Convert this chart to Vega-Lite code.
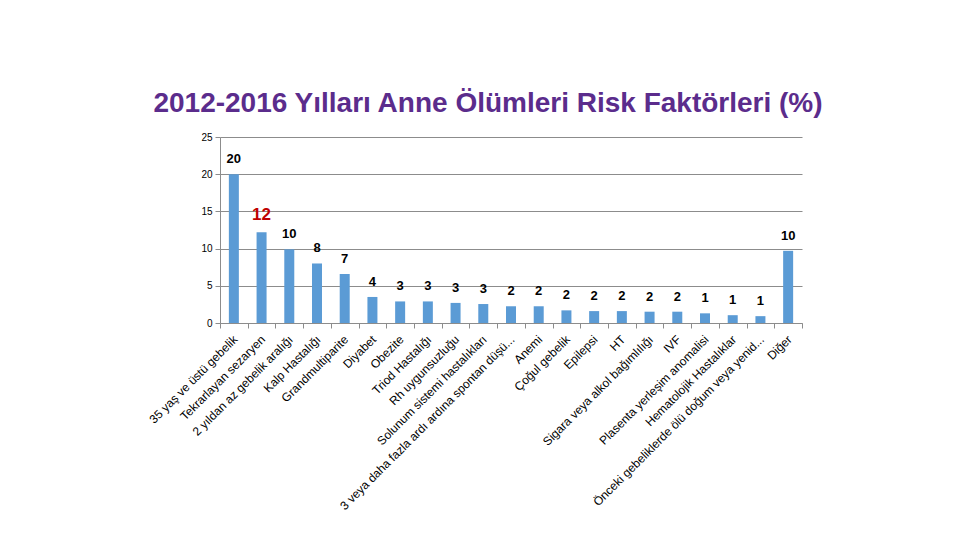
{
  "$schema": "https://vega.github.io/schema/vega-lite/v6.json",
  "autosize": "none",
  "width": 582,
  "height": 186,
  "padding": {"left": 220, "top": 137, "right": 158, "bottom": 217},
  "background": "white",
  "title": {
    "text": "2012-2016 Yılları Anne Ölümleri Risk Faktörleri (%)",
    "font": "Liberation Sans",
    "fontSize": 28,
    "fontWeight": "bold",
    "color": "#5B2C8C",
    "anchor": "middle",
    "frame": "group",
    "dx": -23,
    "offset": 14
  },
  "data": {
    "values": [
      {"risk": "35 yaş ve üstü gebelik", "pct": 20.0},
      {"risk": "Tekrarlayan sezaryen", "pct": 12.2},
      {"risk": "2 yıldan az gebelik aralığı", "pct": 9.9},
      {"risk": "Kalp Hastalığı", "pct": 8.0},
      {"risk": "Grandmultiparite", "pct": 6.6},
      {"risk": "Diyabet", "pct": 3.5},
      {"risk": "Obezite", "pct": 2.9},
      {"risk": "Triod Hastalığı", "pct": 2.9},
      {"risk": "Rh uygunsuzluğu", "pct": 2.7},
      {"risk": "Solunum sistemi hastalıkları", "pct": 2.55},
      {"risk": "3 veya daha fazla ardı ardına spontan düşü...", "pct": 2.25},
      {"risk": "Anemi", "pct": 2.25},
      {"risk": "Çoğul gebelik", "pct": 1.7},
      {"risk": "Epilepsi", "pct": 1.6},
      {"risk": "HT", "pct": 1.6},
      {"risk": "Sigara veya alkol bağımlılığı", "pct": 1.52},
      {"risk": "IVF", "pct": 1.52},
      {"risk": "Plasenta yerleşim anomalisi", "pct": 1.3},
      {"risk": "Hematolojik Hastalıklar", "pct": 1.05},
      {"risk": "Önceki gebeliklerde ölü doğum veya yenid...", "pct": 0.92},
      {"risk": "Diğer", "pct": 9.7}
    ]
  },
  "encoding": {
    "x": {
      "field": "risk",
      "type": "nominal",
      "sort": null,
      "scale": {"paddingInner": 0, "paddingOuter": 0},
      "axis": {
        "title": null,
        "tickBand": "extent",
        "labelAngle": -45,
        "labelAlign": "right",
        "labelBaseline": "middle",
        "labelFont": "Liberation Sans",
        "labelFontSize": 12,
        "labelColor": "#000000",
        "labelLimit": 400,
        "labelPadding": 9,
        "labelOffset": 1,
        "domainColor": "#8C8C8C",
        "tickColor": "#8C8C8C",
        "tickSize": 5,
        "grid": false
      }
    },
    "y": {
      "field": "pct",
      "type": "quantitative",
      "scale": {"domain": [0, 25], "nice": false},
      "axis": {
        "title": null,
        "values": [0, 5, 10, 15, 20, 25],
        "labelFont": "Liberation Sans",
        "labelFontSize": 10,
        "labelColor": "#000000",
        "domainColor": "#8C8C8C",
        "tickColor": "#8C8C8C",
        "tickSize": 5,
        "labelPadding": 3,
        "grid": true,
        "gridColor": "#8C8C8C",
        "gridWidth": 1
      }
    }
  },
  "layer": [
    {
      "mark": {"type": "bar", "size": 10, "color": "#5B9BD5"}
    },
    {
      "mark": {
        "type": "text",
        "baseline": "bottom",
        "align": "center",
        "dy": -8,
        "font": "Liberation Sans",
        "fontWeight": "bold"
      },
      "encoding": {
        "text": {"field": "pct", "type": "quantitative", "format": ".0f"},
        "color": {
          "condition": {"test": "datum.risk === 'Tekrarlayan sezaryen'", "value": "#C00000"},
          "value": "#000000"
        },
        "size": {
          "condition": {"test": "datum.risk === 'Tekrarlayan sezaryen'", "value": 17},
          "value": 13
        }
      }
    }
  ],
  "config": {"view": {"stroke": null}}
}
